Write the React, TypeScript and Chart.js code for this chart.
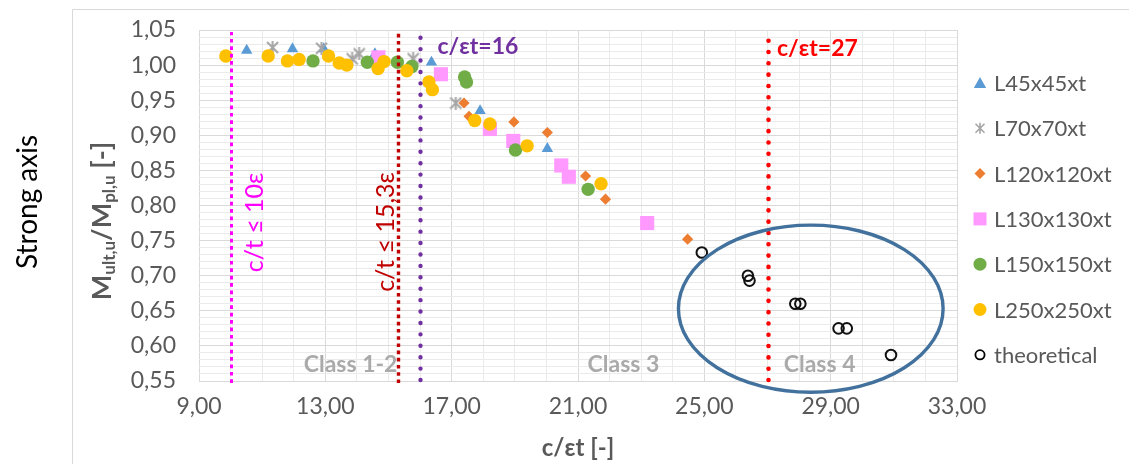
import React, { useEffect, useRef } from 'react';
import { Chart, registerables } from 'chart.js';

Chart.register(...registerables);

// Axis ranges
const X_MIN = 9;
const X_MAX = 33;
const X_MAJOR = 4;
const Y_MIN = 0.55;
const Y_MAX = 1.05;

// Test series (c/εt, Mult,u/Mpl,u)
const L45_X = [10.51, 11.96, 12.95, 14.57, 16.36, 17.9, 20.03];
const L45_Y = [1.021, 1.023, 1.023, 1.016, 1.004, 0.935, 0.881];

const L70_X = [11.33, 12.88, 13.85, 14.07, 15.78, 17.13];
const L70_Y = [1.025, 1.024, 1.009, 1.016, 1.009, 0.946];

const L120_X = [17.39, 17.55, 18.97, 20.03, 21.24, 21.87, 24.47];
const L120_Y = [0.946, 0.927, 0.919, 0.904, 0.842, 0.809, 0.752];

const L130_X = [14.68, 16.66, 18.21, 18.95, 20.47, 20.71, 23.19];
const L130_Y = [1.011, 0.987, 0.909, 0.892, 0.857, 0.841, 0.775];

const L150_X = [12.61, 14.33, 15.28, 15.74, 17.41, 17.47, 19.02, 21.32];
const L150_Y = [1.006, 1.004, 1.004, 0.998, 0.983, 0.976, 0.879, 0.823];

const L250_X = [9.85, 11.19, 11.8, 12.17, 13.1, 13.44, 13.68, 14.67, 14.86, 15.58, 16.28, 16.39, 17.73, 18.21, 19.39, 21.73];
const L250_Y = [1.013, 1.013, 1.006, 1.008, 1.013, 1.003, 1.0, 0.995, 1.005, 0.992, 0.976, 0.965, 0.921, 0.916, 0.885, 0.831];

const THEO_X = [24.92, 26.38, 26.43, 27.88, 28.04, 29.25, 29.51, 30.91];
const THEO_Y = [0.733, 0.7, 0.693, 0.66, 0.66, 0.625, 0.625, 0.587];

const SERIES_NAMES = ['L45x45xt', 'L70x70xt', 'L120x120xt', 'L130x130xt', 'L150x150xt', 'L250x250xt', 'theoretical'];

// Slenderness limits drawn as vertical dotted lines
const LIMIT_VALUES = [10, 15.3, 16, 27];
const LIMIT_LABELS = ['c/t ≤ 10ε', 'c/t ≤ 15,3ε', 'c/εt=16', 'c/εt=27'];

// Cross-section class regions
const CLASS_LABELS = ['Class 1-2', 'Class 3', 'Class 4'];
const CLASS_LABEL_X = [13.8, 22.44, 28.65];
const CLASS_LABEL_Y = 0.573;

// Ellipse grouping the class 4 theoretical results (centre and radii in axis units)
const GROUP_CX = 28.37;
const GROUP_CY = 0.653;
const GROUP_RX = 4.19;
const GROUP_RY = 0.119;

const FONT = 'Lato, "Open Sans", sans-serif';
const TEXT_GREY = '#595959';
const GRID_MAJOR = '#D9D9D9';
const GRID_MINOR = '#EBEBEB';

const COLORS = {
  blue: '#5B9BD5',
  grey: '#A5A5A5',
  orange: '#ED7D31',
  pink: '#FF99FF',
  green: '#70AD47',
  yellow: '#FFC000',
};

const fmt = (v: number) => v.toFixed(2).replace('.', ',');
const isMajorX = (v: number) => {
  const k = (v - X_MIN) / X_MAJOR;
  return Math.abs(k - Math.round(k)) < 1e-6;
};
const isMajorY = (v: number) => Math.round(v * 100) % 5 === 0;

const zip = (xs: number[], ys: number[]) => xs.map((x, i) => ({ x, y: ys[i] }));

function makeStar(size: number, lw: number, color: string) {
  const c = document.createElement('canvas');
  c.width = size;
  c.height = size;
  const g = c.getContext('2d')!;
  g.strokeStyle = color;
  g.lineWidth = lw;
  const m = 1;
  const s = size - 1;
  g.beginPath();
  g.moveTo(m, m);
  g.lineTo(s, s);
  g.moveTo(s, m);
  g.lineTo(m, s);
  g.moveTo(size / 2, 0);
  g.lineTo(size / 2, size);
  g.stroke();
  return c;
}

function drawLegendMarker(ctx: CanvasRenderingContext2D, kind: number, x: number, y: number) {
  ctx.save();
  ctx.beginPath();
  switch (kind) {
    case 0: // triangle
      ctx.fillStyle = COLORS.blue;
      ctx.moveTo(x, y - 6);
      ctx.lineTo(x + 6.2, y + 5);
      ctx.lineTo(x - 6.2, y + 5);
      ctx.closePath();
      ctx.fill();
      break;
    case 1: // star
      ctx.strokeStyle = COLORS.grey;
      ctx.lineWidth = 1.6;
      ctx.moveTo(x - 4.5, y - 4.5);
      ctx.lineTo(x + 4.5, y + 4.5);
      ctx.moveTo(x + 4.5, y - 4.5);
      ctx.lineTo(x - 4.5, y + 4.5);
      ctx.moveTo(x, y - 5.5);
      ctx.lineTo(x, y + 5.5);
      ctx.stroke();
      break;
    case 2: // diamond
      ctx.fillStyle = COLORS.orange;
      ctx.moveTo(x, y - 5.5);
      ctx.lineTo(x + 5.5, y);
      ctx.lineTo(x, y + 5.5);
      ctx.lineTo(x - 5.5, y);
      ctx.closePath();
      ctx.fill();
      break;
    case 3: // square
      ctx.fillStyle = COLORS.pink;
      ctx.rect(x - 6.5, y - 6.5, 13, 13);
      ctx.fill();
      break;
    case 4:
      ctx.fillStyle = COLORS.green;
      ctx.arc(x, y, 6.5, 0, Math.PI * 2);
      ctx.fill();
      break;
    case 5:
      ctx.fillStyle = COLORS.yellow;
      ctx.arc(x, y, 6.5, 0, Math.PI * 2);
      ctx.fill();
      break;
    default:
      ctx.strokeStyle = '#000';
      ctx.lineWidth = 1.8;
      ctx.arc(x, y, 4.6, 0, Math.PI * 2);
      ctx.stroke();
  }
  ctx.restore();
}

const decorations = {
  id: 'decorations',
  beforeDraw(chart: any) {
    const { ctx, width, height } = chart;
    ctx.save();
    ctx.fillStyle = '#fff';
    ctx.fillRect(0, 0, width, height);
    // outer frame (left and top edges)
    ctx.strokeStyle = GRID_MAJOR;
    ctx.lineWidth = 1;
    ctx.beginPath();
    ctx.moveTo(72.5, height);
    ctx.lineTo(72.5, 9.5);
    ctx.lineTo(width, 9.5);
    ctx.stroke();

    // side caption
    ctx.fillStyle = '#000';
    ctx.font = `28px ${FONT}`;
    ctx.textAlign = 'center';
    ctx.textBaseline = 'middle';
    ctx.translate(28, 202);
    ctx.rotate(-Math.PI / 2);
    ctx.fillText('Strong axis', 0, 0);
    ctx.restore();
  },
  beforeDatasetsDraw(chart: any) {
    const { ctx, scales } = chart;
    const xs = scales.x;
    const ys = scales.y;
    ctx.save();
    ctx.fillStyle = '#AAAAAA';
    ctx.font = `bold 23px ${FONT}`;
    ctx.textAlign = 'center';
    ctx.textBaseline = 'middle';
    CLASS_LABELS.forEach((t, i) => {
      ctx.fillText(t, xs.getPixelForValue(CLASS_LABEL_X[i]), ys.getPixelForValue(CLASS_LABEL_Y));
    });
    ctx.restore();
  },
  afterDatasetsDraw(chart: any) {
    const { ctx, scales, chartArea } = chart;
    const xs = scales.x;
    const ys = scales.y;
    const top = chartArea.top;
    const bottom = chartArea.bottom;

    const vline = (v: number, color: string, lw: number, dash: number[], cap: CanvasLineCap) => {
      const px = Math.round(xs.getPixelForValue(v)) + 0.5;
      ctx.save();
      ctx.strokeStyle = color;
      ctx.lineWidth = lw;
      ctx.setLineDash(dash);
      ctx.lineCap = cap;
      ctx.beginPath();
      ctx.moveTo(px, bottom + (cap === 'round' ? -1 : 2));
      ctx.lineTo(px, top + 2);
      ctx.stroke();
      ctx.restore();
      return px;
    };

    const p10 = vline(LIMIT_VALUES[0], '#FF00FF', 3, [3.7, 3.7], 'butt');
    const p153 = vline(LIMIT_VALUES[1], '#C00000', 3.4, [3.6, 3.6], 'butt');
    vline(LIMIT_VALUES[2], '#7030A0', 4.4, [0.01, 11.4], 'round');
    vline(LIMIT_VALUES[3], '#FF0000', 4.6, [0.01, 11.3], 'round');

    // rotated limit captions
    const vtext = (t: string, x: number, yStart: number, color: string) => {
      ctx.save();
      ctx.fillStyle = color;
      ctx.font = `25px ${FONT}`;
      ctx.textAlign = 'left';
      ctx.textBaseline = 'middle';
      ctx.translate(x, yStart);
      ctx.rotate(-Math.PI / 2);
      ctx.fillText(t, 0, 0);
      ctx.restore();
    };
    vtext(LIMIT_LABELS[0], p10 + 23, ys.getPixelForValue(0.705), '#FF00FF');
    vtext(LIMIT_LABELS[1], p153 - 13, ys.getPixelForValue(0.677), '#C00000');

    ctx.save();
    ctx.font = `bold 23px ${FONT}`;
    ctx.textAlign = 'left';
    ctx.textBaseline = 'middle';
    ctx.fillStyle = '#7030A0';
    ctx.fillText(LIMIT_LABELS[2], xs.getPixelForValue(16.55), ys.getPixelForValue(1.026));
    ctx.fillStyle = '#FF0000';
    ctx.fillText(LIMIT_LABELS[3], xs.getPixelForValue(27.3), ys.getPixelForValue(1.024));
    ctx.restore();
  },
  afterDraw(chart: any) {
    const { ctx, scales, chartArea } = chart;
    const xs = scales.x;
    const ys = scales.y;

    // grouping ellipse
    const cx = xs.getPixelForValue(GROUP_CX);
    const cy = ys.getPixelForValue(GROUP_CY);
    const rx = xs.getPixelForValue(GROUP_CX + GROUP_RX) - cx;
    const ry = cy - ys.getPixelForValue(GROUP_CY + GROUP_RY);
    ctx.save();
    ctx.strokeStyle = '#41719C';
    ctx.lineWidth = 3.4;
    ctx.beginPath();
    ctx.ellipse(cx, cy, rx, ry, 0, 0, Math.PI * 2);
    ctx.stroke();
    ctx.restore();

    // y-axis title with subscripts
    ctx.save();
    ctx.fillStyle = TEXT_GREY;
    ctx.textBaseline = 'middle';
    ctx.textAlign = 'left';
    const main = `bold 27px ${FONT}`;
    const sub = `bold 17px ${FONT}`;
    const parts: [string, string, number][] = [
      ['M', main, 0],
      ['ult,u', sub, 8],
      ['/M', main, 0],
      ['pl,u', sub, 8],
      [' [-]', main, 0],
    ];
    let total = 0;
    parts.forEach(([t, f]) => {
      ctx.font = f;
      total += ctx.measureText(t).width;
    });
    ctx.translate(102, 221);
    ctx.rotate(-Math.PI / 2);
    let cur = -total / 2;
    parts.forEach(([t, f, dy]) => {
      ctx.font = f;
      ctx.fillText(t, cur, dy);
      cur += ctx.measureText(t).width;
    });
    ctx.restore();

    // x-axis title
    ctx.save();
    ctx.fillStyle = TEXT_GREY;
    ctx.font = `bold 24px ${FONT}`;
    ctx.textAlign = 'center';
    ctx.textBaseline = 'middle';
    ctx.fillText('c/εt [-]', (chartArea.left + chartArea.right) / 2, 448);
    ctx.restore();

    // legend
    ctx.save();
    ctx.fillStyle = TEXT_GREY;
    ctx.font = `22px ${FONT}`;
    ctx.textAlign = 'left';
    ctx.textBaseline = 'middle';
    SERIES_NAMES.forEach((name, i) => {
      const y = 83 + i * 45.3;
      drawLegendMarker(ctx, i, 980, y);
      ctx.fillText(name, 994, y + 1);
    });
    ctx.restore();
  },
};

export default function App() {
  const ref = useRef<HTMLCanvasElement | null>(null);

  useEffect(() => {
    if (!ref.current) return;
    const star = makeStar(13, 2, COLORS.grey);
    const n = SERIES_NAMES.length;

    const chart = new Chart(ref.current, {
      type: 'scatter',
      data: {
        datasets: [
          { label: SERIES_NAMES[0], data: zip(L45_X, L45_Y), pointStyle: 'triangle', pointRadius: 6.6, backgroundColor: COLORS.blue, borderWidth: 0, order: n - 0 },
          { label: SERIES_NAMES[1], data: zip(L70_X, L70_Y), pointStyle: star as any, pointRadius: 6.5, backgroundColor: COLORS.grey, borderColor: COLORS.grey, borderWidth: 0, order: n - 1 },
          { label: SERIES_NAMES[2], data: zip(L120_X, L120_Y), pointStyle: 'rectRot', pointRadius: 5.6, backgroundColor: COLORS.orange, borderWidth: 0, order: n - 2 },
          { label: SERIES_NAMES[3], data: zip(L130_X, L130_Y), pointStyle: 'rect', pointRadius: 10, backgroundColor: COLORS.pink, borderWidth: 0, order: n - 3 },
          { label: SERIES_NAMES[4], data: zip(L150_X, L150_Y), pointStyle: 'circle', pointRadius: 6.7, backgroundColor: COLORS.green, borderWidth: 0, order: n - 4 },
          { label: SERIES_NAMES[5], data: zip(L250_X, L250_Y), pointStyle: 'circle', pointRadius: 6.7, backgroundColor: COLORS.yellow, borderWidth: 0, order: n - 5 },
          { label: SERIES_NAMES[6], data: zip(THEO_X, THEO_Y), pointStyle: 'circle', pointRadius: 5.3, backgroundColor: 'rgba(0,0,0,0)', borderColor: '#111', borderWidth: 2, order: n - 6 },
        ],
      },
      options: {
        animation: false,
        responsive: true,
        maintainAspectRatio: false,
        events: [],
        layout: { padding: { top: 30, right: 172, left: 0, bottom: 0 } },
        plugins: { legend: { display: false }, tooltip: { enabled: false } },
        scales: {
          x: {
            type: 'linear',
            min: X_MIN,
            max: X_MAX,
            ticks: {
              stepSize: 1,
              autoSkip: false,
              maxRotation: 0,
              padding: 12,
              color: TEXT_GREY,
              font: { family: FONT, size: 23 },
              callback: (v: any) => (isMajorX(Number(v)) ? fmt(Number(v)) : ''),
            },
            grid: {
              drawTicks: false,
              color: (c: any) => (c.tick && isMajorX(c.tick.value) ? GRID_MAJOR : GRID_MINOR),
              lineWidth: 1,
            },
            border: { display: true, color: GRID_MAJOR },
            afterFit: (s: any) => {
              s.height = 83;
              s.paddingLeft = 0;
              s.paddingRight = 0;
            },
          },
          y: {
            type: 'linear',
            min: Y_MIN,
            max: Y_MAX,
            ticks: {
              stepSize: 0.01,
              autoSkip: false,
              padding: 23,
              color: TEXT_GREY,
              font: { family: FONT, size: 23 },
              callback: (v: any) => (isMajorY(Number(v)) ? fmt(Number(v)) : ''),
            },
            grid: {
              drawTicks: false,
              color: (c: any) => (c.tick && isMajorY(c.tick.value) ? GRID_MAJOR : GRID_MINOR),
              lineWidth: 1,
            },
            border: { display: false },
            afterFit: (s: any) => {
              s.width = 199;
              s.paddingTop = 0;
              s.paddingBottom = 0;
            },
          },
        },
      },
      plugins: [decorations],
    } as any);

    let alive = true;
    if ((document as any).fonts?.ready) {
      (document as any).fonts.ready.then(() => {
        if (alive) chart.update();
      });
    }

    return () => {
      alive = false;
      chart.destroy();
    };
  }, []);

  return (
    <div style={{ position: 'fixed', left: 0, top: 0, width: 1129, height: 464, background: '#fff' }}>
      <canvas ref={ref} />
    </div>
  );
}
